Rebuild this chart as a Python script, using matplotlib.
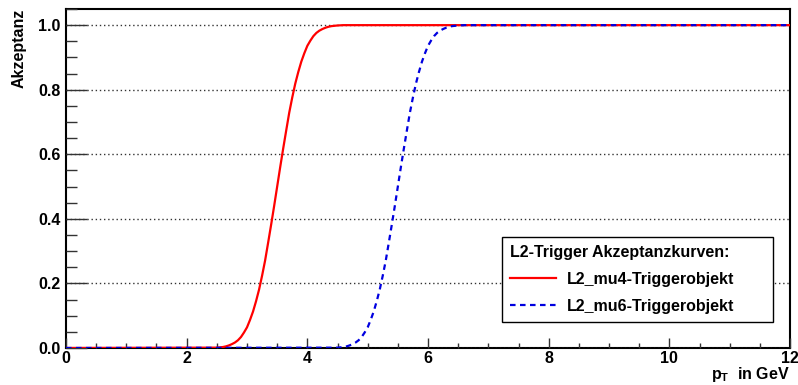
import numpy as np
import matplotlib.pyplot as plt
from matplotlib.ticker import MultipleLocator

plt.rcParams['font.family'] = ['Liberation Sans', 'DejaVu Sans']
plt.rcParams['font.weight'] = 'bold'
plt.rcParams['mathtext.fontset'] = 'custom'
plt.rcParams['mathtext.rm'] = 'Liberation Sans:bold'
plt.rcParams['mathtext.bf'] = 'Liberation Sans:bold'

# acceptance curves
pt_mu4 = [0.0, 2.5, 2.55, 2.6, 2.65, 2.7, 2.75, 2.8, 2.85, 2.9, 2.95, 3.0,
          3.05, 3.1, 3.15, 3.2, 3.25, 3.3, 3.35, 3.4, 3.45, 3.5, 3.55, 3.6,
          3.65, 3.7, 3.75, 3.8, 3.85, 3.9, 3.95, 4.0, 4.05, 4.1, 4.15, 4.2,
          4.25, 4.3, 4.35, 4.4, 4.45, 4.5, 4.55, 4.6, 12.0]
acc_mu4 = [0.0, 0.001, 0.002, 0.003, 0.005, 0.008, 0.012, 0.017, 0.024,
           0.034, 0.048, 0.064, 0.087, 0.113, 0.145, 0.181, 0.224, 0.271,
           0.326, 0.382, 0.440, 0.500, 0.560, 0.618, 0.674, 0.729, 0.776,
           0.819, 0.855, 0.887, 0.913, 0.936, 0.952, 0.966, 0.976, 0.983,
           0.988, 0.992, 0.995, 0.997, 0.998, 0.999, 0.9995, 1.0, 1.0]
pt_mu6 = [0.0, 4.5, 4.55, 4.6, 4.65, 4.7, 4.75, 4.8, 4.85, 4.9, 4.95, 5.0,
          5.05, 5.1, 5.15, 5.2, 5.25, 5.3, 5.35, 5.4, 5.45, 5.5, 5.55, 5.6,
          5.65, 5.7, 5.75, 5.8, 5.85, 5.9, 5.95, 6.0, 6.05, 6.1, 6.15, 6.2,
          6.25, 6.3, 6.35, 6.4, 6.45, 6.5, 6.55, 6.6, 12.0]
acc_mu6 = [0.0, 0.001, 0.002, 0.003, 0.005, 0.008, 0.012, 0.017, 0.024,
           0.034, 0.048, 0.064, 0.087, 0.113, 0.145, 0.181, 0.224, 0.271,
           0.326, 0.382, 0.440, 0.500, 0.560, 0.618, 0.674, 0.729, 0.776,
           0.819, 0.855, 0.887, 0.913, 0.936, 0.952, 0.966, 0.976, 0.983,
           0.988, 0.992, 0.995, 0.997, 0.998, 0.999, 0.9995, 1.0, 1.0]

fs = 11.5

fig = plt.figure(figsize=(7.98, 3.85), dpi=100)
ax = fig.add_axes([0.0827, 0.0961, 0.9073, 0.8805])

ax.plot(pt_mu4, acc_mu4, color='#ff0000', lw=1.6, label='L2_mu4-Triggerobjekt', zorder=3)
ax.plot(pt_mu6, acc_mu6, color='#0000e0', lw=1.6, ls=(0, (2.5, 2)),
        label='L2_mu6-Triggerobjekt', zorder=3)

ax.set_xlim(0, 12)
ax.set_ylim(0, 1.05)
ax.xaxis.set_major_locator(MultipleLocator(2))
ax.xaxis.set_minor_locator(MultipleLocator(0.5))
ax.yaxis.set_major_locator(MultipleLocator(0.2))
ax.yaxis.set_minor_locator(MultipleLocator(0.05))
ax.yaxis.set_major_formatter(lambda v, p: '%.1f' % v)

ax.tick_params(axis='both', which='both', direction='in', labelsize=fs,
               color='#333333', width=1)
ax.tick_params(axis='x', which='major', length=7, pad=2)
ax.tick_params(axis='x', which='minor', length=3.5)
ax.tick_params(axis='y', which='major', length=15, pad=4)
ax.tick_params(axis='y', which='minor', length=8)
for lbl in ax.get_xticklabels() + ax.get_yticklabels():
    lbl.set_fontweight('bold')

for s in ax.spines.values():
    s.set_linewidth(1.5)
    s.set_color('black')

ax.yaxis.grid(True, ls=(0, (1, 2)), color='#333333', lw=1)
ax.set_axisbelow(False)

ax.set_ylabel('Akzeptanz', fontsize=fs, fontweight='bold', loc='top', labelpad=8)
fig.text(0.99, 0.016, r'$\mathrm{p}_{\mathrm{T}}$  in GeV', fontsize=fs,
         fontweight='bold', ha='right', va='baseline')

leg = ax.legend(title='L2-Trigger Akzeptanzkurven:', loc='lower left',
                bbox_to_anchor=(0.602, 0.0767, 0.3745, 0.259), mode='expand',
                fancybox=False, framealpha=1, edgecolor='black', fontsize=fs,
                title_fontsize=fs, alignment='left', handlelength=2.9,
                labelspacing=0.75, borderpad=0.5, handletextpad=0.7,
                borderaxespad=0)
leg.get_frame().set_linewidth(1)
leg.get_title().set_fontweight('bold')
for t in leg.get_texts():
    t.set_fontweight('bold')

fig.savefig('out.png', dpi=100)
